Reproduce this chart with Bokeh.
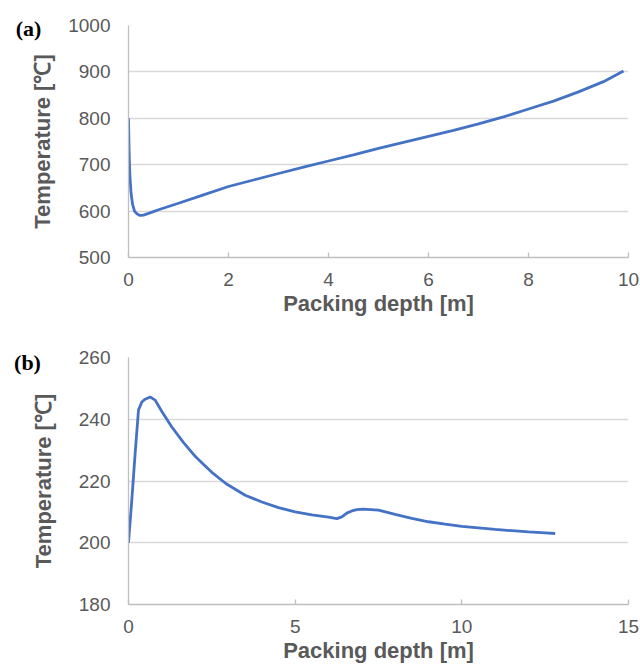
from bokeh.plotting import figure
from bokeh.layouts import column
from bokeh.models import Label, FixedTicker, Range1d
from bokeh.embed import file_html
from bokeh.resources import INLINE

# Panel (a)
depth_a = [0, 0.01, 0.02, 0.03, 0.05, 0.08, 0.12, 0.17, 0.22, 0.25, 0.3, 0.4, 0.5, 0.6, 0.8,
           1.0, 1.5, 2, 2.5, 3, 3.5, 4, 4.5, 5, 5.5, 6, 6.5, 7, 7.5, 8, 8.5, 9, 9.5, 9.9]
temp_a = [800, 740, 700, 672, 640, 615, 600, 594, 591, 591, 591.5, 595, 599, 603, 610,
          617, 635, 653, 667, 681, 695, 708, 721, 735, 748, 761, 774, 788, 803, 820, 837, 857, 879, 902]
xticks_a = [0, 2, 4, 6, 8, 10]
yticks_a = [500, 600, 700, 800, 900, 1000]

# Panel (b)
depth_b = [0, 0.1, 0.2, 0.3, 0.4, 0.5, 0.65, 0.8, 1.0, 1.3, 1.64, 2.0, 2.23, 2.5, 2.93, 3.5, 4.0,
           4.5, 5.0, 5.5, 6.0, 6.25, 6.4, 6.55, 6.7, 6.85, 7.04, 7.5, 8.0, 8.5, 9.0, 9.5, 10.0,
           10.5, 11.0, 11.5, 12.0, 12.5, 12.8]
temp_b = [200, 214, 229, 243, 245.6, 246.5, 247.2, 246.2, 242.5, 237.5, 232.6, 228, 225.6, 222.8,
          219.1, 215.4, 213.2, 211.4, 210.0, 209.0, 208.3, 207.8, 208.4, 209.6, 210.3, 210.7, 210.9,
          210.6, 209.2, 207.9, 206.8, 206.0, 205.3, 204.8, 204.3, 203.9, 203.5, 203.2, 203.0]
xticks_b = [0, 5, 10, 15]
yticks_b = [180, 200, 220, 240, 260]

LINE = "#4472C4"
GRID = "#d9d9d9"
AXIS = "#bfbfbf"
TXT = "#595959"
FONT = "Liberation Sans"


def make(xs, ys, xr, yr, xt, yt, width, height, top, bottom, left, right, title_standoff, tag, tag_xoff, tag_yoff):
    p = figure(width=width, height=height, output_backend="svg", toolbar_location=None,
               x_range=Range1d(*xr), y_range=Range1d(*yr),
               min_border_top=top, min_border_bottom=bottom, min_border_left=left, min_border_right=right)
    p.outline_line_color = None
    p.line(xs, ys, line_color=LINE, line_width=2.8)
    p.xgrid.grid_line_color = None
    p.ygrid.grid_line_color = GRID
    p.ygrid.grid_line_width = 1.3
    p.xaxis.ticker = FixedTicker(ticks=xt)
    p.yaxis.ticker = FixedTicker(ticks=yt)
    for ax in (p.xaxis[0], p.yaxis[0]):
        ax.axis_line_color = AXIS
        ax.axis_line_width = 1.3
        ax.minor_tick_line_color = None
        ax.major_label_text_color = TXT
        ax.major_label_text_font = FONT
        ax.major_label_text_font_size = "19px"
        ax.axis_label_text_color = TXT
        ax.axis_label_text_font = FONT
        ax.axis_label_text_font_style = "bold"
        ax.axis_label_text_font_size = "22px"
    p.xaxis.major_tick_in = 5
    p.xaxis.major_tick_out = 0
    p.xaxis.major_tick_line_color = AXIS
    p.xaxis.major_tick_line_width = 1.3
    p.xaxis.major_label_standoff = 15
    p.xaxis.axis_label = "Packing depth [m]"
    p.xaxis.axis_label_standoff = 2
    p.yaxis.major_tick_line_color = None
    p.yaxis.major_tick_in = 0
    p.yaxis.major_tick_out = 0
    p.yaxis.major_label_standoff = 18
    p.yaxis.axis_label = "Temperature [℃]"
    p.yaxis.axis_label_standoff = title_standoff
    p.add_layout(Label(x=xr[0], y=yr[1], x_offset=tag_xoff, y_offset=tag_yoff, text=tag,
                       text_font="Liberation Serif", text_font_style="bold", text_font_size="22px",
                       text_color="black", text_align="center", text_baseline="middle"), "above")
    return p


pa = make(depth_a, temp_a, (0, 10), (500, 1000), xticks_a, yticks_a,
          640, 332, 25, 75, 127, 12, 10, "(a)", -100, -3)
pb = make(depth_b, temp_b, (0, 15), (180, 260), xticks_b, yticks_b,
          640, 336, 25, 64, 128, 8, 20, "(b)", -101, -5)

layout = column(pa, pb, spacing=0)
open("out.html", "w").write(file_html(layout, INLINE))
